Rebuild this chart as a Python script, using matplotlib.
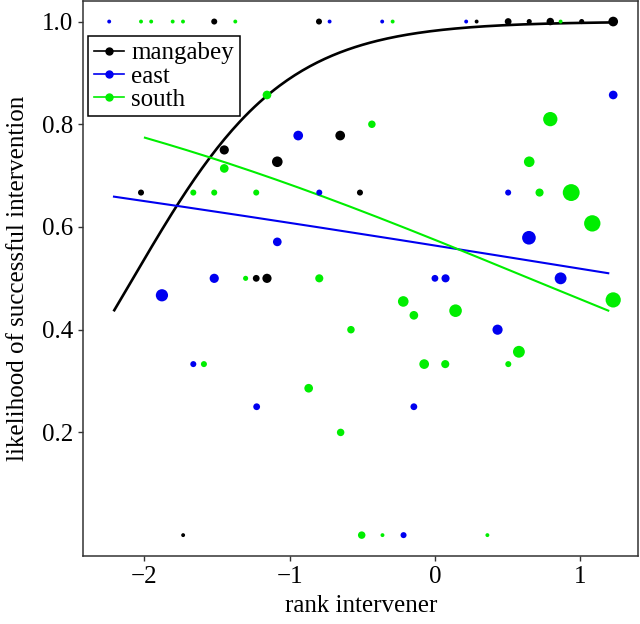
import numpy as np
import matplotlib
matplotlib.use("Agg")
import matplotlib.pyplot as plt
from matplotlib.lines import Line2D

plt.rcParams["font.family"] = ["Liberation Serif", "DejaVu Serif"]

# mangabey (black)
mang_x = [-1.519, -0.798, 0.287, 0.504, 0.649, 0.794, 1.010, 1.227,
          -0.652, -1.450, -1.085, -2.023, -0.516, -1.230, -1.156, 1.080, -1.733]
mang_y = [1.0, 1.0, 1.0, 1.0, 1.0, 1.0, 1.0, 1.0,
          0.778, 0.750, 0.727, 0.667, 0.667, 0.500, 0.500, 0.600, 0.0]
mang_n = [3, 3, 1, 4, 2, 5, 2, 9, 9, 8, 11, 3, 3, 4, 8, 5, 1]

# east (blue)
east_x = [-2.242, -0.725, -0.363, 0.215, -0.941, -0.796, 0.504, -1.085, 0.647,
          -1.519, 0.000, 0.073, 0.865, -1.879, 0.431, -1.663, -1.227, -0.145,
          -0.216, 1.227]
east_y = [1.0, 1.0, 1.0, 1.0, 0.778, 0.667, 0.667, 0.571, 0.579,
          0.500, 0.500, 0.500, 0.500, 0.467, 0.400, 0.333, 0.250, 0.250,
          0.0, 0.857]
east_n = [1, 1, 1, 1, 9, 3, 3, 7, 19, 8, 4, 6, 14, 15, 10, 3, 4, 4, 3, 7]

# south (green)
south_x = [-2.023, -1.953, -1.805, -1.734, -1.374, -0.291, 0.865,
           -1.156, -0.434, 0.794, 0.649, -1.450, -1.663, -1.519, -1.230,
           0.720, 0.938, 1.083, -1.303, -0.796, 1.227, -0.218, 0.142,
           -0.145, -0.578, 0.578, -1.590, -0.074, 0.071, 0.505, -0.869,
           -0.649, -0.504, -0.361, 0.361]
south_y = [1.0, 1.0, 1.0, 1.0, 1.0, 1.0, 1.0,
           0.857, 0.800, 0.810, 0.727, 0.714, 0.667, 0.667, 0.667,
           0.667, 0.667, 0.607, 0.500, 0.500, 0.458, 0.455, 0.437,
           0.428, 0.400, 0.357, 0.333, 0.333, 0.333, 0.333, 0.286,
           0.200, 0.0, 0.0, 0.0]
south_n = [1, 1, 1, 1, 1, 1, 1,
           7, 5, 21, 11, 7, 3, 3, 3,
           6, 30, 28, 2, 6, 24, 11, 16,
           7, 5, 14, 3, 9, 6, 3, 7,
           5, 5, 1, 1]

# logistic fits: intercept, slope, x range
mang_fit = [4.01, 1.93]
east_fit = [0.257, -0.182]
south_fit = [0.302, -0.465]
mang_range = [-2.207, 1.227]
east_range = [-2.209, 1.193]
south_range = [-1.996, 1.193]

labels = ["mangabey", "east", "south"]
colors = ["black", "#0000f0", "#00ee00"]


def size_from_n(n):
    r_px = 0.5 + 1.45 * np.sqrt(np.asarray(n, dtype=float))
    return (2 * r_px * 72 / 100) ** 2


fig = plt.figure(figsize=(6.4, 6.24), dpi=100)
ax = fig.add_axes([0.1302, 0.1095, 0.8672, 0.8889])

fits = [(mang_fit, mang_range), (east_fit, east_range), (south_fit, south_range)]
widths = [1.9, 1.5, 1.5]
for (coef, rng), c, lw in zip(fits, colors, widths):
    xs = np.linspace(rng[0], rng[1], 200)
    ys = 1 / (1 + np.exp(-(coef[0] + coef[1] * xs)))
    ax.plot(xs, ys, color=c, lw=lw, zorder=2)

groups = [(mang_x, mang_y, mang_n), (east_x, east_y, east_n),
          (south_x, south_y, south_n)]
for (gx, gy, gn), c in zip(groups, colors):
    ax.scatter(gx, gy, s=size_from_n(gn), color=c, edgecolors="none", zorder=3)

ax.set_xlim(-2.42, 1.40)
ax.set_ylim(-0.04, 1.04)
ax.set_xticks([-2, -1, 0, 1])
ax.set_yticks([0.2, 0.4, 0.6, 0.8, 1.0])
ax.set_yticklabels(["0.2", "0.4", "0.6", "0.8", "1.0"])
ax.tick_params(direction="out", length=3.6, width=1.0, labelsize=18,
               color="#333333", pad=4)
for sp in ax.spines.values():
    sp.set_color("#333333")
    sp.set_linewidth(1.1)

ax.set_xlabel("rank intervener", fontsize=18, labelpad=5)
ax.set_ylabel("likelihood of successful intervention", fontsize=18, labelpad=9)

handles = [Line2D([0], [0], color=c, lw=1.2, marker="o", markersize=5)
           for c in colors]
leg = ax.legend(handles, labels, loc="upper left",
                bbox_to_anchor=(0.009, 0.936), fontsize=18,
                frameon=True, fancybox=False, framealpha=1,
                edgecolor="black", borderpad=0.22, labelspacing=0.03,
                handlelength=1.2, handletextpad=0.3, borderaxespad=0)
leg.get_frame().set_linewidth(1.1)

fig.savefig("out.png", dpi=100)
